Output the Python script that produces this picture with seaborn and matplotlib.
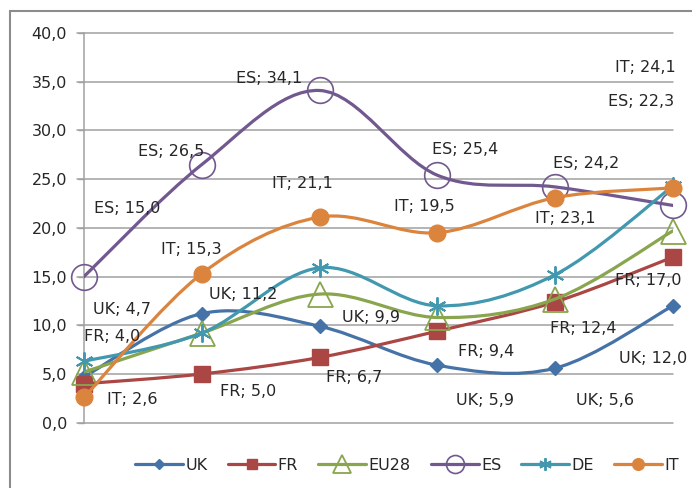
import numpy as np
import pandas as pd
import matplotlib
matplotlib.use("Agg")
import matplotlib.pyplot as plt
from matplotlib.path import Path
from matplotlib.patches import PathPatch, Rectangle
from matplotlib.lines import Line2D
import seaborn as sns

# data
positions = [0, 1, 2, 3, 4, 5]
uk = [4.7, 11.2, 9.9, 5.9, 5.6, 12.0]
fr = [4.0, 5.0, 6.7, 9.4, 12.4, 17.0]
eu28 = [5.2, 9.2, 13.2, 10.8, 12.7, 19.7]
es = [15.0, 26.5, 34.1, 25.4, 24.2, 22.3]
de = [6.3, 9.2, 15.9, 12.0, 15.2, 24.3]
it = [2.6, 15.3, 21.1, 19.5, 23.1, 24.1]
yticks = [0, 5, 10, 15, 20, 25, 30, 35, 40]

series = [("UK", uk), ("FR", fr), ("EU28", eu28), ("ES", es), ("DE", de), ("IT", it)]

# styles: colour, marker, size, face, edge width
styles = {
    "UK": ("#4572A7", "D", 7.5, "#4572A7", 1.0),
    "FR": ("#AA4643", "s", 11, "#AA4643", 1.0),
    "EU28": ("#89A54E", "^", 18, "none", 1.3),
    "ES": ("#71588F", "o", 18.5, "none", 1.2),
    "DE": ("#4198AF", (6, 2, 0), 13, "#4198AF", 1.4),
    "IT": ("#DB843D", "o", 12, "#DB843D", 1.0),
}

# label offsets in pixels (series, index, dx, dy)
label_offsets = [
    ("ES", 0, 43, 68), ("ES", 1, -31, 13), ("ES", 2, -50, 12), ("ES", 3, 28, 26),
    ("ES", 4, 31, 23), ("ES", 5, -32, 104),
    ("IT", 0, 48, -2), ("IT", 1, -10, 24), ("IT", 2, -17, 34), ("IT", 3, -13, 26),
    ("IT", 4, 10, -21), ("IT", 5, -28, 120),
    ("UK", 0, 38, 67), ("UK", 1, 41, 19), ("UK", 2, 51, 9), ("UK", 3, 48, -35),
    ("UK", 4, 50, -32), ("UK", 5, -20, -53),
    ("FR", 0, 28, 47), ("FR", 1, 46, -18), ("FR", 2, 35, -20), ("FR", 3, 49, -20),
    ("FR", 4, 28, -27), ("FR", 5, -25, -23),
]


def smooth_path(xs, ys):
    pts = np.column_stack([xs, ys]).astype(float)
    n = len(pts)
    verts = [pts[0]]
    codes = [Path.MOVETO]
    for i in range(n - 1):
        p0 = pts[max(i - 1, 0)]
        p1 = pts[i]
        p2 = pts[i + 1]
        p3 = pts[min(i + 2, n - 1)]
        verts += [p1 + (p2 - p0) / 6, p2 - (p3 - p1) / 6, p2]
        codes += [Path.CURVE4] * 3
    return Path(verts, codes)


sns.set_style("white")
sns.set_style("ticks")
plt.rcParams["font.family"] = ["DejaVu Sans"]

fig = plt.figure(figsize=(6.92, 4.88), dpi=100)
ax = fig.add_axes([84 / 692, 1 - 422.7 / 488, (673 - 84) / 692, (422.7 - 33) / 488])

grid_c = "#a0a0a0"
for yt in yticks:
    ax.plot([-0.06, 5], [yt, yt], color=grid_c, lw=1.1, zorder=1, clip_on=False)

handles = []
for k, (name, vals) in enumerate(series):
    color, marker, ms, face, mew = styles[name]
    z = 3 + k * 2
    ax.add_patch(PathPatch(smooth_path(positions, vals), fill=False,
                           edgecolor=color, lw=2.3, zorder=z, capstyle="round"))
    df = pd.DataFrame({"x": positions, "y": vals})
    sns.lineplot(data=df, x="x", y="y", ax=ax, linestyle="none", marker=marker,
                 markersize=ms, markerfacecolor=face, markeredgecolor=color,
                 markeredgewidth=mew, color=color, zorder=z + 1, clip_on=False)
    handles.append(Line2D([], [], color=color, lw=2.3, marker=marker,
                          markersize=ms * 0.7, markerfacecolor=face,
                          markeredgecolor=color, markeredgewidth=mew))

data = dict(series)
for name, i, dx, dy in label_offsets:
    v = data[name][i]
    txt = f"{name}; {v:.1f}".replace(".", ",")
    ax.annotate(txt, xy=(positions[i], v), xytext=(dx, dy), textcoords="offset pixels",
                ha="center", va="center", fontsize=11.5, color="#262626", zorder=20)

ax.set_xlim(0, 5)
ax.set_ylim(0, 40)
ax.set_yticks(yticks)
ax.set_yticklabels([f"{t:.1f}".replace(".", ",") for t in yticks])
ax.set_xticks([])
ax.set_xlabel("")
ax.set_ylabel("")
ax.tick_params(axis="y", length=4.3, width=1.0, color=grid_c, pad=8,
               labelsize=11.5, labelcolor="#262626")
for s in ["top", "right", "bottom"]:
    ax.spines[s].set_visible(False)
ax.spines["left"].set_color(grid_c)
ax.spines["left"].set_linewidth(1.1)
ax.spines["left"].set_zorder(2)
ax.patch.set_alpha(0)

fig.legend(handles, [n for n, _ in series], loc="center", ncol=6,
           bbox_to_anchor=(407 / 692, 1 - 465 / 488), frameon=False,
           fontsize=11.5, handlelength=3.0, handletextpad=0.15,
           columnspacing=1.25)

fig.patches.append(Rectangle((10 / 692, -0.1), 1.0, 1 - 11 / 488 + 0.1,
                             transform=fig.transFigure, fill=False,
                             edgecolor="#8c8c8c", lw=1.5))

fig.savefig("out.png", dpi=100)
